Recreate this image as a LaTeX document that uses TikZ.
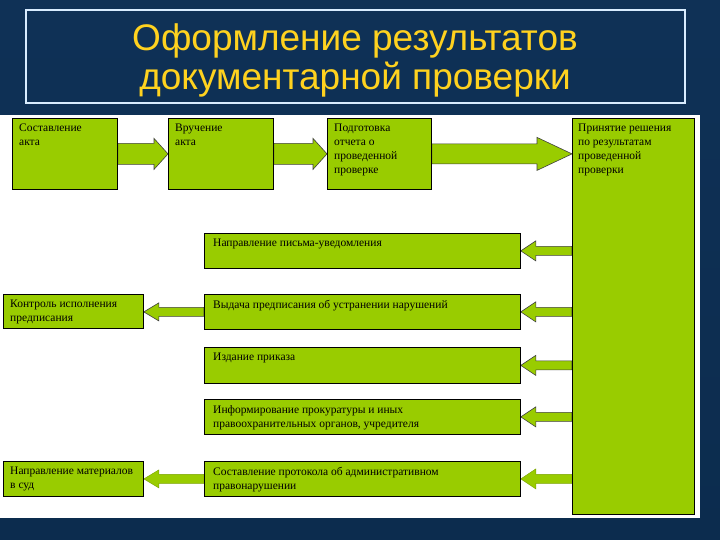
\documentclass[tikz,border=0pt]{standalone}
\usepackage{fontspec}
\setmainfont{Liberation Serif}
\newfontfamily\titlefont{Liberation Sans}
\usetikzlibrary{calc}
\definecolor{grn}{HTML}{99CC00}
\definecolor{navy}{HTML}{0C2C4E}
\definecolor{midblue}{HTML}{1E4D86}
\definecolor{ttl}{HTML}{FFD21F}
\definecolor{tframe}{HTML}{D8ECFF}
\pgfdeclarelayer{background}
\pgfdeclarelayer{arrowlayer}
\pgfsetlayers{background,arrowlayer,main}
\tikzset{
  box/.style={draw=black, line width=0.8pt, fill=grn, anchor=north west, inner sep=0pt},
  lbl/.style={anchor=north west, align=left, inner sep=0pt, text=black,
    font=\fontsize{11.5pt}{14pt}\selectfont, xshift=7pt, yshift=-6pt},
  barrow/.style={draw=black!75, line width=0.6pt, fill=grn, line join=miter},
  softarrow/.style={draw=grn!80!black, line width=0.4pt, fill=grn, line join=miter}
}
\newcommand\rarrow[6][barrow]{%
  \draw[#1] let \p1=(#2), \p2=(#3) in
   (\x1,\y1+#4) -- (\x2-#6,\y1+#4) -- (\x2-#6,\y1+#5) -- (\x2,\y1)
   -- (\x2-#6,\y1-#5) -- (\x2-#6,\y1-#4) -- (\x1,\y1-#4) -- cycle;}
\newcommand\larrow[6][barrow]{%
  \draw[#1] let \p1=(#2), \p2=(#3) in
   (\x1,\y1+#4) -- (\x2+#6,\y1+#4) -- (\x2+#6,\y1+#5) -- (\x2,\y1)
   -- (\x2+#6,\y1-#5) -- (\x2+#6,\y1-#4) -- (\x1,\y1-#4) -- cycle;}
\begin{document}
\begin{tikzpicture}[x=1pt,y=-1pt]
\useasboundingbox (0,0) rectangle (720,540);
\begin{pgfonlayer}{background}
  \shade[top color=navy!85!midblue, middle color=midblue, bottom color=navy] (0,0) rectangle (720,540);
  \fill[white] (0,115) rectangle (700,518);
\end{pgfonlayer}
% title
\node[draw=tframe, line width=1.5pt, minimum width=659pt, minimum height=93pt, inner sep=0pt] (tbox) at (355.5,56.5) {};
\node[align=center, text=ttl, font=\titlefont\fontsize{37pt}{39pt}\selectfont, inner sep=0pt] (title) at (355,60)
  {Оформление результатов\\документарной проверки};
% boxes
\node[box, minimum width=105pt, minimum height=71pt, label={[lbl]north west:Составление\\акта}] (b1) at (12,118) {};
\node[box, minimum width=105pt, minimum height=71pt, label={[lbl]north west:Вручение\\акта}] (b2) at (168,118) {};
\node[box, minimum width=104pt, minimum height=71pt, label={[lbl]north west:Подготовка\\отчета о\\проведенной\\проверке}] (b3) at (327,118) {};
\node[box, minimum width=122pt, minimum height=396pt, label={[lbl, xshift=-1pt]north west:Принятие решения\\по результатам\\проведенной\\проверки}] (big) at (572,118) {};
\node[box, minimum width=316pt, minimum height=35pt, label={[lbl, xshift=2pt]north west:Направление письма-уведомления}] (n1) at (204,233) {};
\node[box, minimum width=316pt, minimum height=35pt, label={[lbl, xshift=2pt]north west:Выдача предписания об устранении нарушений}] (n2) at (204,294) {};
\node[box, minimum width=140pt, minimum height=34pt, label={[lbl]north west:Контроль исполнения\\предписания}] (k) at (3,294) {};
\node[box, minimum width=316pt, minimum height=36pt, label={[lbl, xshift=2pt]north west:Издание приказа}] (n3) at (204,347) {};
\node[box, minimum width=316pt, minimum height=35pt, label={[lbl, xshift=2pt]north west:Информирование прокуратуры и иных\\правоохранительных органов, учредителя}] (n4) at (204,399) {};
\node[box, minimum width=316pt, minimum height=35pt, label={[lbl, xshift=2pt]north west:Составление протокола об административном\\правонарушении}] (n5) at (204,461) {};
\node[box, minimum width=140pt, minimum height=35pt, label={[lbl]north west:Направление материалов\\в суд}] (m) at (3,461) {};
% arrows
\begin{pgfonlayer}{arrowlayer}
  \rarrow{b1.east}{b2.west}{10.5pt}{15.5pt}{14pt}
  \rarrow{b2.east}{b3.west}{10.5pt}{15.5pt}{14pt}
  \rarrow{b3.east}{big.west |- b3.east}{10pt}{16.5pt}{35pt}
  \larrow{big.west |- n1.east}{n1.east}{4.5pt}{10pt}{15pt}
  \larrow{big.west |- n2.east}{n2.east}{4.5pt}{10pt}{15pt}
  \larrow{big.west |- n3.east}{n3.east}{4.5pt}{10pt}{15pt}
  \larrow{big.west |- n4.east}{n4.east}{4.5pt}{10pt}{15pt}
  \larrow[softarrow]{big.west |- n5.east}{n5.east}{4.5pt}{10pt}{15pt}
  \larrow{n2.west}{k.east}{4.5pt}{9pt}{15pt}
  \larrow[softarrow]{n5.west}{m.east}{4.5pt}{9pt}{15pt}
\end{pgfonlayer}
\end{tikzpicture}
\end{document}
